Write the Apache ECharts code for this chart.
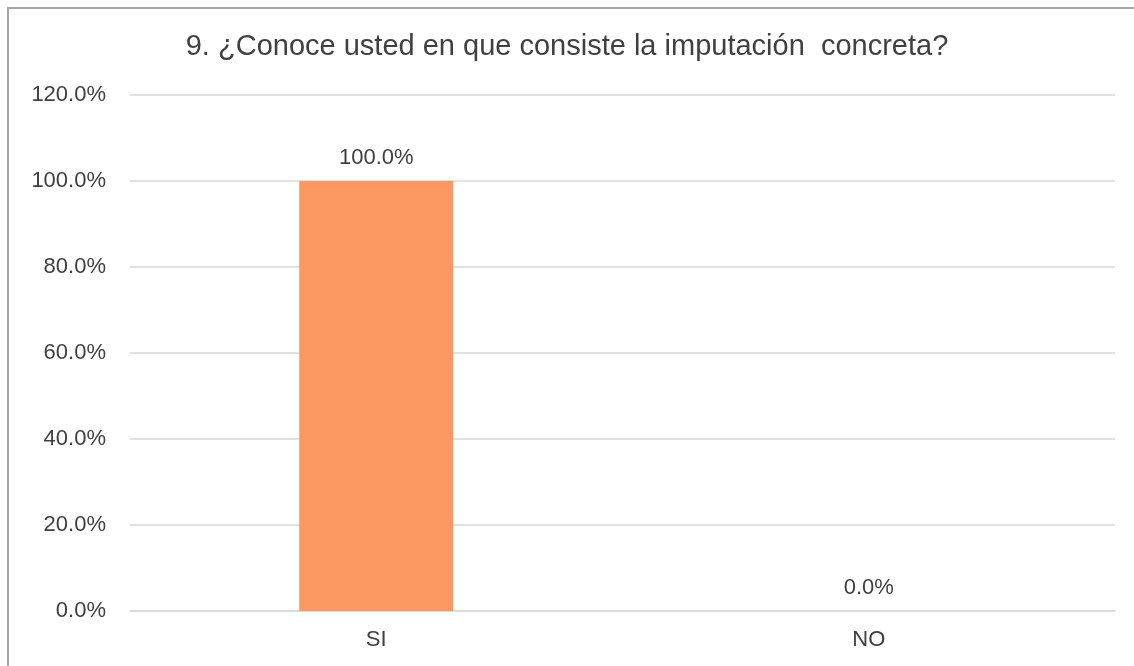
<!DOCTYPE html>
<html>
<head>
<meta charset="utf-8">
<script src="https://cdn.jsdelivr.net/npm/echarts@6/dist/echarts.min.js"></script>
<style>
html,body{margin:0;padding:0;background:#fff;}
#frame{position:absolute;left:0;top:0;width:1134px;height:666px;}
#border{position:absolute;left:7px;top:7px;width:1127px;height:659px;border-left:2px solid #a6a6a6;border-top:2px solid #a6a6a6;box-sizing:border-box;}
#chart1{position:absolute;left:0;top:0;width:1134px;height:666px;}
</style>
</head>
<body>
<div id="frame">
<div id="border"></div>
<div id="chart1"></div>
</div>
<script>
var titleText = '9. ¿Conoce usted en que consiste la imputación  concreta?';
var categories = ['SI', 'NO'];
var percentValues = [100.0, 0.0];
var yTicks = [0, 20, 40, 60, 80, 100, 120];

var Chart1 = {
	init: function () {
		var myChart = echarts.init(document.getElementById('chart1'));
		var option = {
			backgroundColor: 'transparent',
			title: {
				text: titleText,
				left: 'center',
				top: 27,
				textStyle: {
					fontFamily: 'Liberation Sans',
					fontSize: 29,
					fontWeight: 'normal',
					color: '#404040'
				}
			},
			grid: {
				left: 130,
				right: 19,
				top: 95,
				bottom: 55,
				containLabel: false
			},
			xAxis: {
				type: 'category',
				data: categories,
				axisLine: { show: true, lineStyle: { color: '#d9d9d9', width: 1.5 } },
				axisTick: { show: false },
				axisLabel: {
					margin: 18,
					fontFamily: 'Liberation Sans',
					fontSize: 22,
					color: '#404040'
				}
			},
			yAxis: {
				type: 'value',
				min: yTicks[0],
				max: yTicks[yTicks.length - 1],
				interval: 20,
				axisLine: { show: false },
				axisTick: { show: false },
				splitLine: { lineStyle: { color: '#d9d9d9', width: 1.5 } },
				axisLabel: {
					margin: 24,
					fontFamily: 'Liberation Sans',
					fontSize: 22,
					color: '#404040',
					formatter: function (v) { return v.toFixed(1) + '%'; }
				}
			},
			series: [{
				type: 'bar',
				data: percentValues,
				barWidth: 154,
				itemStyle: { color: '#fb9861' },
				label: {
					show: true,
					position: 'top',
					distance: 12,
					fontFamily: 'Liberation Sans',
					fontSize: 22,
					color: '#404040',
					formatter: function (p) { return p.value.toFixed(1) + '%'; }
				}
			}]
		};
		myChart.setOption(option, true);
	}
};

Chart1.init();
</script>
</body>
</html>
